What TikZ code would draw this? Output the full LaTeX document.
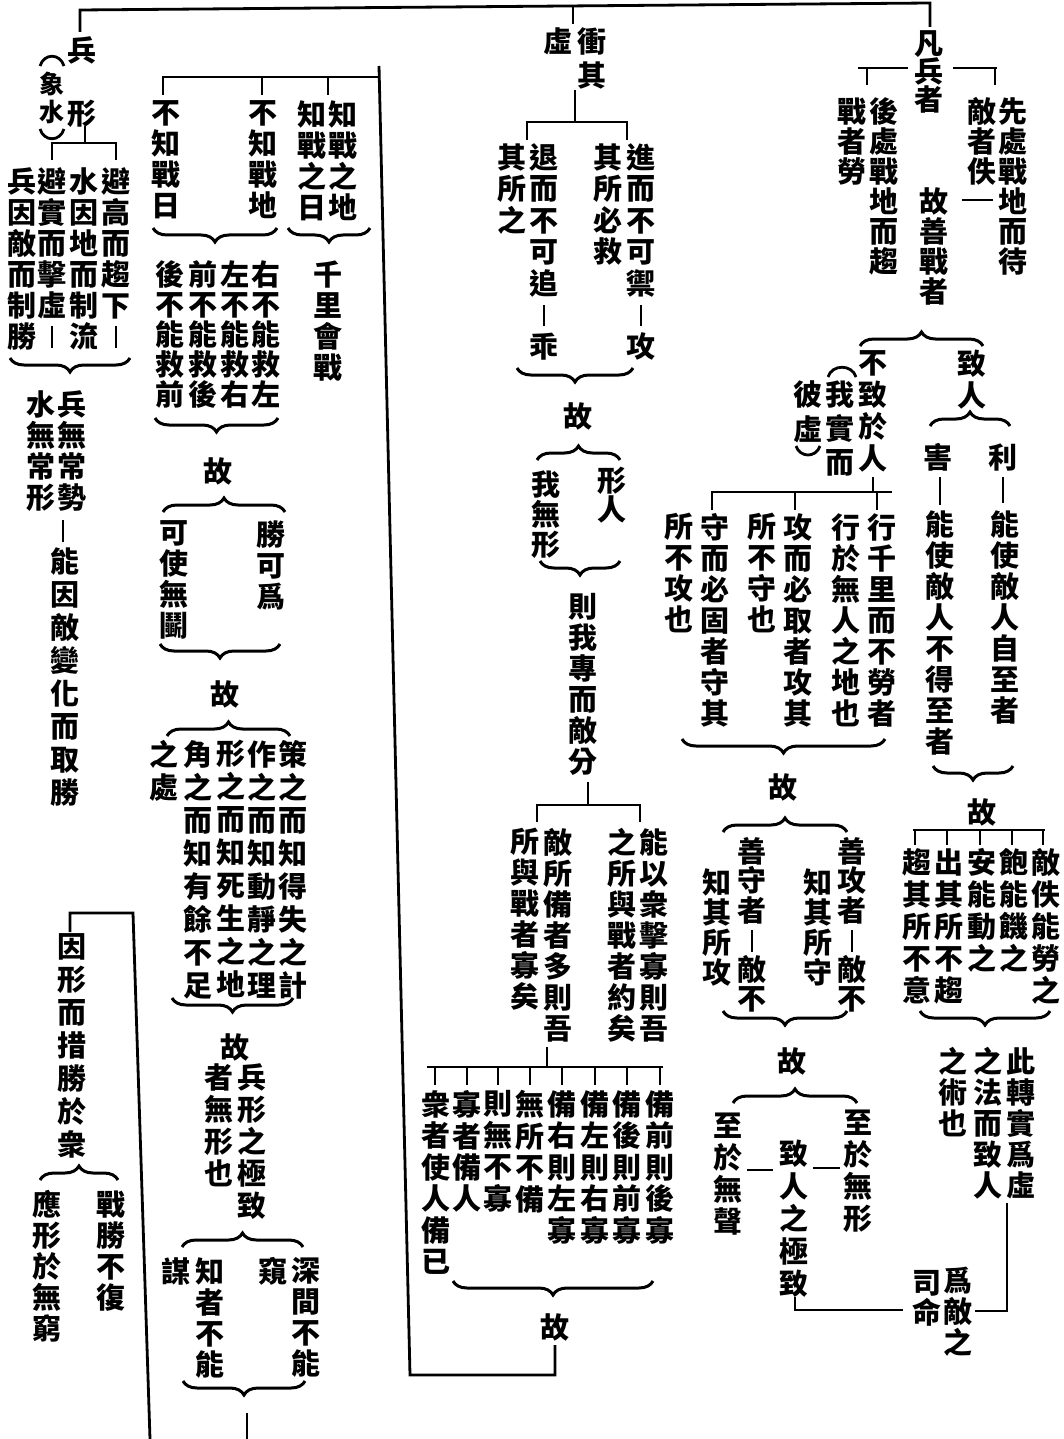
\documentclass[tikz,border=0pt]{standalone}
\usepackage{fontspec}
\newfontfamily\cjk{Noto Sans CJK TC}
\usetikzlibrary{decorations.pathreplacing}
\newdimen\pxu \pxu=0.5pt
\newdimen\cw \cw=16pt
\newdimen\vpitch
\def\vtend{VTEND}
\def\vtc#1{\ifx#1|\hbox to\cw{\hss\vrule width 1.3pt height 0.72em depth 0.02em\hss}\else\ifx#1*\hbox to\cw{\hss}\else\hbox to\cw{\hss#1\hss}\fi\fi}
\def\vtl#1{\ifx#1\vtend\else\vtc{#1}\expandafter\vtl\fi}
\newcommand\vt[2][31]{\vbox{\vpitch=#1\pxu\baselineskip=\vpitch\lineskiplimit=-16000pt\lineskip=0pt\vtl#2\vtend}}
\tikzset{
  col/.style={anchor=north, inner sep=0pt, font=\cjk\bfseries\fontsize{14.5pt}{16pt}\selectfont},
  smallcol/.style={col, font=\cjk\bfseries\fontsize{12.5pt}{14pt}\selectfont},
  ln/.style={line width=1.4pt},
  bup/.style={decorate, decoration={brace, amplitude=7pt}, line width=1.5pt},
  bdn/.style={decorate, decoration={brace, amplitude=7pt, mirror}, line width=1.5pt}
}
\begin{document}
\begin{tikzpicture}[x=0.5pt, y=-0.5pt]
\path[use as bounding box, fill=white] (0,0) rectangle (1064,1439);
% ---------- top line
\draw[ln] (80,32) -- (80,10) -- (930,3) -- (930,27);
\draw[ln] (573,6) -- (573,24);
% ---------- left column group
\node[col] (bing) at (82,36) {\vt{兵}};
\node[col] (xing) at (82,100) {\vt{形}};
\node[smallcol] (xs) at (52,72) {\vt[28]{象水}};
\draw[ln] (40,66) .. controls (44,53) and (60,53) .. (64,66);
\draw[ln] (40,129) .. controls (44,142) and (60,142) .. (64,129);
\draw[ln] (85,126) -- (85,143);
\draw[ln] (52,160) -- (52,143) -- (116,143) -- (116,160);
\node[col] (c1) at (116,167) {\vt{避高而趨下|}};
\node[col] (c2) at (84,167) {\vt{水因地而制流}};
\node[col] (c3) at (52,167) {\vt{避實而擊虛|}};
\node[col] (c4) at (22,167) {\vt{兵因敵而制勝}};
\draw[bdn] (10,358) -- (130,358);
\node[col] (c5) at (72,390) {\vt{兵無常勢}};
\node[col] (c6) at (41,390) {\vt{水無常形}};
\draw[ln] (63,520) -- (63,542);
\node[col] (c7) at (65,547) {\vt[33]{能因敵變化而取勝}};
\draw[ln] (70,932) -- (70,913) -- (133,913) -- (150,1439);
\node[col] (c8) at (72,933) {\vt[33]{因形而措勝於衆}};
\draw[bup] (40,1180) -- (118,1180);
\node[col] (c9) at (111,1190) {\vt{戰勝不復}};
\node[col] (c10) at (47,1190) {\vt{應形於無窮}};
% ---------- middle-left group
\draw[ln] (163,95) -- (163,77) -- (379,77);
\draw[ln] (262,77) -- (262,95);
\draw[ln] (328,77) -- (328,95);
\draw[ln] (379,66) -- (410,1375) -- (555,1375) -- (555,1345);
\node[col] (d1) at (343,100) {\vt{知戰之地}};
\node[col] (d2) at (312,100) {\vt{知戰之日}};
\node[col] (d3) at (263,100) {\vt{不知戰地}};
\node[col] (d4) at (166,100) {\vt{不知戰日}};
\draw[bdn] (153,228) -- (277,228);
\draw[bdn] (288,228) -- (370,228);
\node[col] (d5) at (266,260) {\vt[30]{右不能救左}};
\node[col] (d6) at (235,260) {\vt[30]{左不能救右}};
\node[col] (d7) at (203,260) {\vt[30]{前不能救後}};
\node[col] (d8) at (170,260) {\vt[30]{後不能救前}};
\node[col] (d9) at (328,260) {\vt{千里會戰}};
\draw[bdn] (155,418) -- (278,418);
\node[col] (gu1) at (218,457) {\vt{故}};
\draw[bup] (163,512) -- (285,512);
\node[col] (d10) at (271,520) {\vt{勝可爲}};
\node[col] (d11) at (174,520) {\vt{可使無鬭}};
\draw[bdn] (160,644) -- (280,644);
\node[col] (gu2) at (225,680) {\vt{故}};
\draw[bup] (167,736) -- (290,736);
\node[col] (d12) at (293,740) {\vt[33]{策之而知得失之計}};
\node[col] (d13) at (262,740) {\vt[33]{作之而知動靜之理}};
\node[col] (d14) at (231,740) {\vt[33]{形之而知死生之地}};
\node[col] (d15) at (198,740) {\vt[33]{角之而知有餘不足}};
\node[col] (d16) at (164,740) {\vt[33]{之處}};
\draw[bdn] (172,998) -- (293,998);
\node[col] (gu3) at (235,1033) {\vt{故}};
\node[col] (d17) at (252,1063) {\vt[32]{兵形之極致}};
\node[col] (d18) at (219,1063) {\vt[32]{者無形也}};
\draw[bup] (182,1247) -- (303,1247);
\node[col] (d19) at (306,1257) {\vt{深間不能}};
\node[col] (d20) at (273,1257) {\vt{窺}};
\node[col] (d21) at (210,1257) {\vt{知者不能}};
\node[col] (d22) at (176,1257) {\vt{謀}};
\draw[bdn] (183,1381) -- (305,1381);
\draw[ln] (247,1413) -- (247,1439);
% ---------- middle group
\node[col] (e1) at (592,27) {\vt[34]{衝其}};
\node[col] (e2) at (558,27) {\vt{虛}};
\draw[ln] (575,90) -- (575,122);
\draw[ln] (527,140) -- (527,122) -- (627,122) -- (627,140);
\node[col] (e3) at (641,143) {\vt[31.5]{進而不可禦|攻}};
\node[col] (e4) at (608,143) {\vt[31.5]{其所必救}};
\node[col] (e5) at (544,143) {\vt[31.5]{退而不可追|乖}};
\node[col] (e6) at (512,143) {\vt[31.5]{其所之}};
\draw[bdn] (517,368) -- (633,368);
\node[col] (gu4) at (578,402) {\vt{故}};
\draw[bup] (537,460) -- (620,460);
\node[col] (e7) at (612,467) {\vt[29]{形人}};
\node[col] (e8) at (546,470) {\vt[30]{我無形}};
\draw[bdn] (540,561) -- (620,561);
\node[col] (e9) at (583,593) {\vt{則我專而敵分}};
\draw[ln] (588,782) -- (588,805);
\draw[ln] (537,822) -- (537,805) -- (640,805) -- (640,822);
\node[col] (e10) at (654,828) {\vt{能以衆擊寡則吾}};
\node[col] (e11) at (622,828) {\vt{之所與戰者約矣}};
\node[col] (e12) at (558,828) {\vt{敵所備者多則吾}};
\node[col] (e13) at (525,828) {\vt{所與戰者寡矣}};
\draw[ln] (547,1047) -- (547,1067);
\draw[ln] (427,1067) -- (663,1067);
\foreach \xx in {435,467,498,530,562,595,627,660} \draw[ln] (\xx,1067) -- (\xx,1085);
\node[col] (f1) at (660,1090) {\vt[31.5]{備前則後寡}};
\node[col] (f2) at (627,1090) {\vt[31.5]{備後則前寡}};
\node[col] (f3) at (595,1090) {\vt[31.5]{備左則右寡}};
\node[col] (f4) at (562,1090) {\vt[31.5]{備右則左寡}};
\node[col] (f5) at (530,1090) {\vt[31.5]{無所不備}};
\node[col] (f6) at (498,1090) {\vt[31.5]{則無不寡}};
\node[col] (f7) at (467,1090) {\vt[31.5]{寡者備人}};
\node[col] (f8) at (436,1090) {\vt[31.5]{衆者使人備已}};
\draw[bdn] (453,1281) -- (653,1281);
\node[col] (gu5) at (555,1313) {\vt{故}};
% ---------- right group
\node[col] (g1) at (929,30) {\vt[28]{凡兵者}};
\draw[ln] (858,68) -- (908,68);
\draw[ln] (867,68) -- (867,85);
\draw[ln] (953,68) -- (997,68);
\draw[ln] (995,68) -- (995,85);
\node[col] (g2) at (1013,97) {\vt[30]{先處戰地而待}};
\node[col] (g3) at (982,97) {\vt[30]{敵者佚}};
\draw[ln] (962,200) -- (993,200);
\node[col] (g4) at (884,97) {\vt[30]{後處戰地而趨}};
\node[col] (g5) at (852,97) {\vt[30]{戰者勞}};
\node[col] (g6) at (934,187) {\vt[30]{故善戰者}};
\draw[bup] (860,346) -- (983,346);
\node[col] (g7) at (972,350) {\vt[32]{致人}};
\node[col] (g8) at (873,350) {\vt[32]{不致於人}};
\node[col] (g9) at (840,380) {\vt[34]{我實而}};
\node[col] (g10) at (808,380) {\vt[35]{彼虛}};
\draw[ln] (828,377) .. controls (832,364) and (852,364) .. (856,377);
\draw[ln] (796,446) .. controls (800,458) and (816,458) .. (820,446);
\draw[ln] (873,477) -- (873,492);
\draw[ln] (712,510) -- (712,492) -- (892,492);
\draw[ln] (795,492) -- (795,510);
\draw[ln] (877,492) -- (877,510);
\node[col] (h1) at (882,513) {\vt{行千里而不勞者}};
\node[col] (h2) at (846,513) {\vt{行於無人之地也}};
\node[col] (h3) at (798,513) {\vt{攻而必取者攻其}};
\node[col] (h4) at (762,513) {\vt{所不守也}};
\node[col] (h5) at (715,513) {\vt{守而必固者守其}};
\node[col] (h6) at (679,513) {\vt{所不攻也}};
\draw[bdn] (682,739) -- (885,739);
\node[col] (gu6) at (783,773) {\vt{故}};
\draw[bup] (723,832) -- (847,832);
\node[col] (i1) at (852,837) {\vt[29.5]{善攻者|敵不}};
\node[col] (i2) at (818,868) {\vt[30]{知其所守}};
\node[col] (i3) at (752,837) {\vt[29.5]{善守者|敵不}};
\node[col] (i4) at (717,868) {\vt[30]{知其所攻}};
\draw[bdn] (723,1011) -- (847,1011);
\node[col] (gu7) at (792,1047) {\vt{故}};
\draw[bup] (733,1103) -- (857,1103);
\node[col] (j1) at (858,1110) {\vt[32]{至於無形}};
\node[col] (j2) at (794,1140) {\vt[32.5]{致人之極致}};
\node[col] (j3) at (728,1113) {\vt[32]{至於無聲}};
\draw[ln] (813,1168) -- (840,1168);
\draw[ln] (747,1170) -- (773,1170);
\draw[ln] (795,1297) -- (795,1310) -- (903,1310);
% ---------- far right
\draw[bup] (930,426) -- (1010,426);
\node[col] (k1) at (1003,443) {\vt{利}};
\draw[ln] (1003,477) -- (1003,503);
\node[col] (k2) at (1005,510) {\vt{能使敵人自至者}};
\node[col] (k3) at (938,443) {\vt{害}};
\draw[ln] (940,477) -- (940,505);
\node[col] (k4) at (940,510) {\vt{能使敵人不得至者}};
\draw[bdn] (933,766) -- (1013,766);
\node[col] (gu8) at (982,798) {\vt{故}};
\draw[ln] (913,830) -- (1045,830);
\foreach \xx in {915,947,980,1012,1043} \draw[ln] (\xx,830) -- (\xx,845);
\node[col] (m1) at (1046,848) {\vt[32]{敵佚能勞之}};
\node[col] (m2) at (1014,848) {\vt[32]{飽能饑之}};
\node[col] (m3) at (982,848) {\vt[32]{安能動之}};
\node[col] (m4) at (949,848) {\vt[32]{出其所不趨}};
\node[col] (m5) at (917,848) {\vt[32]{趨其所不意}};
\draw[bdn] (920,1011) -- (1050,1011);
\node[col] (n1) at (1021,1047) {\vt{此轉實爲虛}};
\node[col] (n2) at (988,1047) {\vt{之法而致人}};
\node[col] (n3) at (953,1047) {\vt{之術也}};
\draw[ln] (1007,1203) -- (1007,1311) -- (975,1311);
\node[col] (o1) at (958,1267) {\vt{爲敵之}};
\node[col] (o2) at (927,1270) {\vt[30]{司命}};
\end{tikzpicture}
\end{document}
